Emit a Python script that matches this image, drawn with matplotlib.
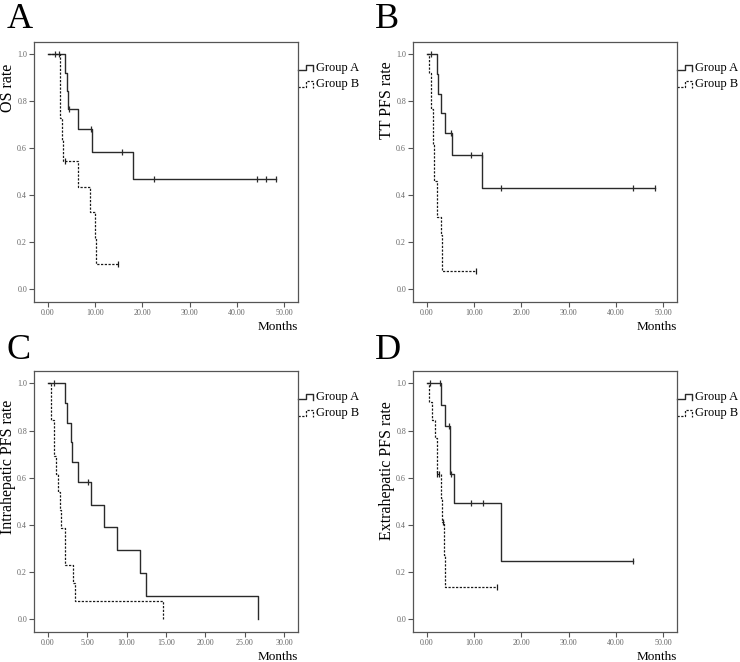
import matplotlib
matplotlib.use("Agg")
import matplotlib.pyplot as plt
import numpy as np

plt.rcParams['font.family'] = ['Liberation Serif', 'DejaVu Serif']

# Kaplan-Meier steps (event time in months, survival after event)
a_os_t = [3.7, 4.0, 4.2, 6.5, 9.3, 18.0]
a_os_s = [0.923, 0.846, 0.769, 0.684, 0.586, 0.469]
a_os_c = [1.5, 2.4, 4.6, 9.2, 15.8, 22.4, 44.3, 46.2, 48.3]
b_os_t = [2.5, 2.7, 2.95, 3.3, 6.5, 8.9, 9.9, 10.3]
b_os_s = [0.909, 0.727, 0.636, 0.545, 0.436, 0.327, 0.218, 0.109]
b_os_c = [3.7, 14.8]

a_tt_t = [2.2, 2.3, 3.1, 3.8, 5.4, 11.7]
a_tt_s = [0.917, 0.833, 0.75, 0.667, 0.571, 0.429]
a_tt_c = [0.8, 5.1, 9.4, 11.6, 15.8, 43.7, 48.3]
b_tt_t = [0.42, 0.88, 1.25, 1.6, 2.15, 2.98, 3.2]
b_tt_s = [0.923, 0.769, 0.615, 0.462, 0.308, 0.231, 0.077]
b_tt_c = [10.4]

a_ih_t = [2.24, 2.4, 2.9, 3.1, 3.9, 5.45, 7.15, 8.75, 11.7, 12.5, 26.7]
a_ih_s = [0.917, 0.833, 0.75, 0.667, 0.583, 0.486, 0.389, 0.292, 0.194, 0.097, 0.0]
a_ih_c = [0.84, 5.15]
b_ih_t = [0.38, 0.8, 1.1, 1.35, 1.5, 1.65, 2.24, 3.25, 3.4, 14.6]
b_ih_s = [0.846, 0.692, 0.615, 0.538, 0.462, 0.385, 0.231, 0.154, 0.077, 0.0]
b_ih_c = []

a_eh_t = [3.1, 3.87, 4.85, 5.0, 5.77, 15.8]
a_eh_s = [0.909, 0.818, 0.716, 0.614, 0.491, 0.245]
a_eh_c = [0.77, 2.8, 4.78, 5.05, 9.3, 12.0, 43.7]
b_eh_t = [0.56, 1.05, 1.69, 2.18, 2.95, 3.23, 3.73, 3.94]
b_eh_s = [0.923, 0.846, 0.769, 0.615, 0.513, 0.41, 0.273, 0.137]
b_eh_c = [2.25, 2.7, 3.4, 14.8]

letters = ["A", "B", "C", "D"]
ylabels = ["OS rate", "TT PFS rate", "Intrahepatic PFS rate", "Extrahepatic PFS rate"]
groups = ["Group A", "Group B"]

W, H = 740, 662
fig = plt.figure(figsize=(W / 100, H / 100), dpi=100)

# panel boxes in pixels: left, top, right, bottom
boxes = [(34, 42, 298, 302), (413, 42, 677, 302), (34, 371, 298, 632), (413, 371, 677, 632)]
letter_pos = [(7, 28), (375, 28), (6, 359), (375, 359)]
ylab_y = [0.823, 0.777, 0.632, 0.62]
xmax = [50, 50, 30, 50]

panels = [
    ((a_os_t, a_os_s, a_os_c), (b_os_t, b_os_s, b_os_c)),
    ((a_tt_t, a_tt_s, a_tt_c), (b_tt_t, b_tt_s, b_tt_c)),
    ((a_ih_t, a_ih_s, a_ih_c), (b_ih_t, b_ih_s, b_ih_c)),
    ((a_eh_t, a_eh_s, a_eh_c), (b_eh_t, b_eh_s, b_eh_c)),
]

solid = dict(color="#2a2a2a", lw=1.0, ls="-")
dashed = dict(color="#1a1a1a", lw=0.9, ls=(0, (1.8, 1.2)))


def km(ax, times, surv, cens, style):
    t = np.r_[0.0, times]
    s = np.r_[1.0, surv]
    end = max([t[-1]] + list(cens))
    t = np.r_[t, end]
    s = np.r_[s, s[-1]]
    ax.step(t, s, where="post", **style)
    if cens:
        idx = np.searchsorted(times, cens, side="right")
        cy = np.r_[1.0, surv][idx]
        ax.plot(cens, cy, ls="none", marker="|", ms=5, mew=0.9, color=style["color"])


for i, (box, (ga, gb)) in enumerate(zip(boxes, panels)):
    l, t_, r, b = box
    ax = fig.add_axes([l / W, 1 - b / H, (r - l) / W, (b - t_) / H])
    km(ax, *ga, solid)
    km(ax, *gb, dashed)

    if xmax[i] == 50:
        ax.set_xlim(-2.9, 52.9)
        ax.set_xticks(np.arange(0, 51, 10))
    else:
        ax.set_xlim(-1.74, 31.74)
        ax.set_xticks(np.arange(0, 31, 5))
    ax.set_ylim(-0.055, 1.053)
    ax.set_yticks(np.arange(0, 1.01, 0.2))
    ax.xaxis.set_major_formatter(matplotlib.ticker.FormatStrFormatter("%.2f"))
    ax.yaxis.set_major_formatter(matplotlib.ticker.FormatStrFormatter("%.1f"))
    ax.tick_params(labelsize=5.8, labelcolor="#666666", color="#555555",
                   length=3.5, width=0.8, pad=1.5)
    for sp in ax.spines.values():
        sp.set_color("#555555")
        sp.set_linewidth(0.9)

    ax.text(1.0, -0.096, "Months", transform=ax.transAxes, ha="right", va="center", fontsize=9.5)
    ax.text(-0.098, ylab_y[i], ylabels[i], transform=ax.transAxes, rotation=90,
            ha="center", va="center", fontsize=11.5)

    # legend glyphs outside the right edge
    for gy0, gy1, ty, style, name in [(0.892, 0.912, 0.9, solid, groups[0]),
                                      (0.827, 0.85, 0.838, dashed, groups[1])]:
        ax.plot([1.0, 1.03, 1.03, 1.057, 1.057], [gy0, gy0, gy1, gy1, gy0 - 0.002],
                transform=ax.transAxes, clip_on=False, **style)
        ax.text(1.07, ty, name, transform=ax.transAxes, ha="left", va="center", fontsize=9)

    lx, ly = letter_pos[i]
    fig.text(lx / W, 1 - ly / H, letters[i], ha="left", va="baseline", fontsize=26)

fig.savefig("out.png", dpi=100)
